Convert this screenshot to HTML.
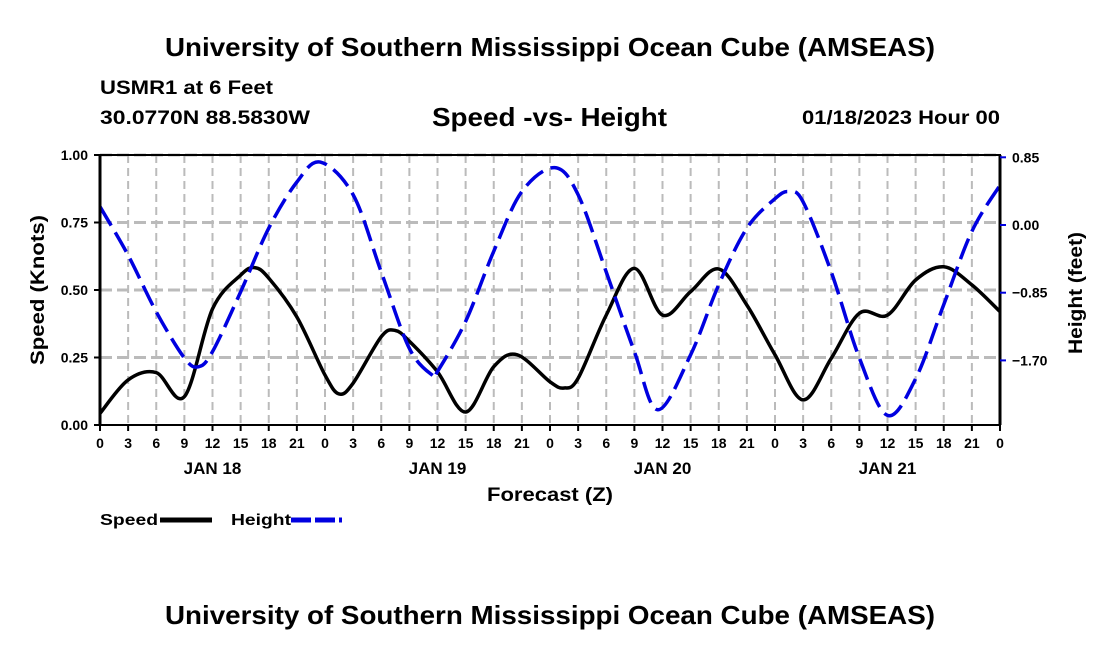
<!DOCTYPE html>
<html><head><meta charset="utf-8"><style>
body{margin:0;background:#fff;}
svg text{font-family:"Liberation Sans",Arial,sans-serif;font-weight:bold;fill:#000;}
</style></head><body>
<svg width="1100" height="650" viewBox="0 0 1100 650" xmlns="http://www.w3.org/2000/svg">
<text x="165" y="56" font-size="26" textLength="770" lengthAdjust="spacingAndGlyphs">University of Southern Mississippi Ocean Cube (AMSEAS)</text>
<text x="100" y="94" font-size="19" textLength="173" lengthAdjust="spacingAndGlyphs">USMR1 at 6 Feet</text>
<text x="100" y="124" font-size="19" textLength="210" lengthAdjust="spacingAndGlyphs">30.0770N  88.5830W</text>
<text x="432" y="126" font-size="26" textLength="235" lengthAdjust="spacingAndGlyphs">Speed -vs- Height</text>
<text x="802" y="124" font-size="19" textLength="198" lengthAdjust="spacingAndGlyphs">01/18/2023 Hour 00</text>
<g id="grid"></g>
<g id="series"></g>
<g id="axes"></g>
<text x="487" y="501" font-size="19" textLength="126" lengthAdjust="spacingAndGlyphs">Forecast (Z)</text>
<text transform="translate(44,365) rotate(-90)" font-size="19" textLength="150" lengthAdjust="spacingAndGlyphs">Speed (Knots)</text>
<text transform="translate(1082,354) rotate(-90)" font-size="19" textLength="122" lengthAdjust="spacingAndGlyphs">Height (feet)</text>
<g>
<text x="100" y="525" font-size="16" textLength="58" lengthAdjust="spacingAndGlyphs">Speed</text>
<line x1="160" y1="520" x2="212" y2="520" stroke="#000" stroke-width="5"/>
<text x="231" y="525" font-size="16" textLength="60" lengthAdjust="spacingAndGlyphs">Height</text>
<line x1="291" y1="520" x2="342" y2="520" stroke="#0000e0" stroke-width="5" stroke-dasharray="20,4"/>
</g>
<text x="165" y="624" font-size="26" textLength="770" lengthAdjust="spacingAndGlyphs">University of Southern Mississippi Ocean Cube (AMSEAS)</text>
</svg>
<script>
const speedHours=[0,3,6,9,12,15,16.5,18,21,24,25.5,27,30,31.5,33,36,39,42,44.5,48,49.5,51,54,57,60,63,66,69,72,75,78,81,84,87,90,93,96];
const speedValues=[0.043,0.167,0.194,0.105,0.43,0.555,0.583,0.544,0.40,0.185,0.115,0.155,0.327,0.35,0.31,0.197,0.048,0.216,0.26,0.16,0.137,0.173,0.407,0.58,0.407,0.494,0.578,0.444,0.26,0.093,0.247,0.414,0.407,0.537,0.586,0.519,0.42];
const heightHours=[0,3,6,9,10.5,12,15,18,21,23.5,27,30,33,35.5,36,39,42,45,48.5,51,54,57,59.5,63,66,69,72,73.5,75,78,81,84,87,90,93,96];
const heightValues=[0.23,-0.38,-1.09,-1.67,-1.78,-1.59,-0.84,-0.04,0.54,0.79,0.38,-0.59,-1.55,-1.89,-1.84,-1.21,-0.33,0.42,0.72,0.38,-0.59,-1.59,-2.32,-1.63,-0.75,-0.04,0.33,0.42,0.29,-0.59,-1.67,-2.39,-1.93,-1.00,-0.08,0.50];
const leftTicks=[0,0.25,0.5,0.75,1.0];
const leftTickLabels=["0.00","0.25","0.50","0.75","1.00"];
const rightTicks=[0.85,0,-0.85,-1.70];
const rightTickLabels=["0.85","0.00","\u22120.85","\u22121.70"];
const dayLabels=["JAN 18","JAN 19","JAN 20","JAN 21"];

const NS="http://www.w3.org/2000/svg";
const X0=100,X1=1000,YT=155,YB=425;
const xS=h=>X0+h*(X1-X0)/96;
const yL=v=>YB-v*(YB-YT);
const yR=v=>225-v*(67.7/0.85);
function mk(tag,attrs,parent){const e=document.createElementNS(NS,tag);for(const k in attrs)e.setAttribute(k,attrs[k]);parent.appendChild(e);return e;}
const grid=document.getElementById('grid'),axes=document.getElementById('axes'),ser=document.getElementById('series');
for(let h=3;h<96;h+=3){const l=mk('line',{x1:xS(h),x2:xS(h),y1:YT,y2:YB,stroke:'#bbb','stroke-width':2,'stroke-dasharray':'8,5'},grid);

}
leftTicks.forEach(v=>{if(v===0)return;const l=mk('line',{x1:X0,x2:X1,y1:yL(v),y2:yL(v),stroke:'#bbb','stroke-width':3,'stroke-dasharray':'12,5'},grid);

});
function path(hs,vs,ys){const p=hs.map((h,i)=>[xS(h),ys(vs[i])]);let d='M'+p[0][0]+','+p[0][1];
for(let i=0;i<p.length-1;i++){const a=p[Math.max(0,i-1)],b=p[i],c=p[i+1],e=p[Math.min(p.length-1,i+2)];
d+=' C'+(b[0]+(c[0]-a[0])/6)+','+(b[1]+(c[1]-a[1])/6)+' '+(c[0]-(e[0]-b[0])/6)+','+(c[1]-(e[1]-b[1])/6)+' '+c[0]+','+c[1];}return d;}
const sp=mk('path',{d:path(speedHours,speedValues,yL),fill:'none',stroke:'#000','stroke-width':3.5,'stroke-linejoin':'round'},ser);


const hp=mk('path',{d:path(heightHours,heightValues,yR),fill:'none',stroke:'#0000e0','stroke-width':3.5,'stroke-dasharray':'22,8'},ser);


const fr=mk('rect',{x:X0,y:YT,width:X1-X0,height:YB-YT,fill:'none',stroke:'#000','stroke-width':2},axes);


mk('line',{x1:X0,x2:X0,y1:YT,y2:YB,stroke:'#000','stroke-width':3},axes);
mk('line',{x1:X1,x2:X1,y1:YT,y2:YB,stroke:'#000','stroke-width':3},axes);
leftTicks.forEach((v,i)=>{mk('line',{x1:X0-6,x2:X0,y1:yL(v),y2:yL(v),stroke:'#000','stroke-width':2},axes);
const t=mk('text',{x:88,y:yL(v)+5,'font-size':14,'text-anchor':'end'},axes);t.textContent=leftTickLabels[i];

});
rightTicks.forEach((v,i)=>{mk('line',{x1:X1,x2:X1+6,y1:yR(v),y2:yR(v),stroke:'#0000e0','stroke-width':2},axes);
const t=mk('text',{x:1012,y:yR(v)+5,'font-size':14},axes);t.textContent=rightTickLabels[i];

});
for(let h=0;h<=96;h+=3){mk('line',{x1:xS(h),x2:xS(h),y1:YB,y2:YB+6,stroke:'#000','stroke-width':2},axes);
const t=mk('text',{x:xS(h),y:448,'font-size':14,'text-anchor':'middle'},axes);t.textContent=String(h%24);

}
dayLabels.forEach((s,i)=>{const t=mk('text',{x:xS(i*24+12),y:474,'font-size':17,'text-anchor':'middle'},axes);t.textContent=s;

});
</script>
</body></html>
